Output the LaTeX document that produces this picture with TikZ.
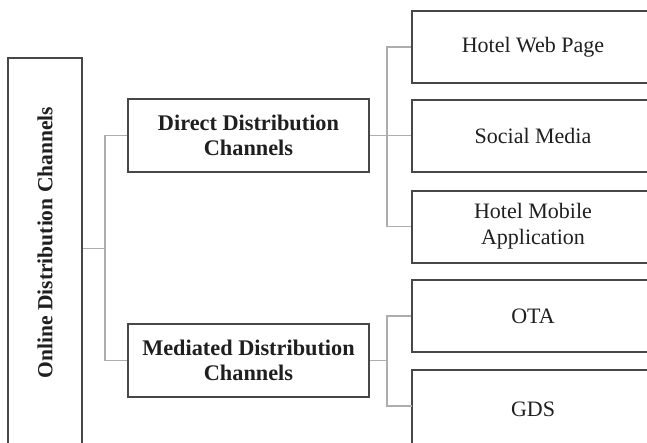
\documentclass[tikz,border=0pt]{standalone}
\usepackage{fontspec}
\setmainfont{Liberation Serif}
\begin{document}
\begin{tikzpicture}[x=1pt,y=-1pt,
  box/.style={draw=black!72, line width=2pt, fill=white, inner sep=0pt, align=center,
    text=black!88, font=\fontsize{22}{26}\selectfont},
  midbox/.style={box, minimum width=241pt, minimum height=73pt, font=\fontsize{22.3}{25}\selectfont\bfseries},
  leafbox/.style={box, minimum width=242pt, minimum height=72pt},
  conn/.style={draw=black!32, line width=1.5pt}]
\useasboundingbox (0,0) rectangle (647,442);
\fill[white] (0,0) rectangle (647,442);
\clip (0,0) rectangle (647,442);
% left box
\node[box, minimum width=74pt, minimum height=420pt] (online) at (45,268) {};
\node[rotate=90, text=black!88, font=\fontsize{21.5}{25}\selectfont\bfseries] (onlinetext) at (45,242.5) {Online Distribution Channels};
% middle boxes
\node[midbox] (direct) at (248.5,135.5) {Direct Distribution\\Channels};
\node[midbox] (mediated) at (248.5,360.5) {Mediated Distribution\\Channels};
% leaf boxes
\node[leafbox] (web) at (533,47) {Hotel Web Page};
\node[leafbox] (social) at (533,135.5) {Social Media};
\node[leafbox] (mobile) at (533,226.5) {Hotel Mobile\\Application};
\node[leafbox] (ota) at (533,316) {OTA};
\node[leafbox, minimum height=78pt] (gds) at (533,409) {GDS};
% junctions
\coordinate (j1) at (105,248.5);
\coordinate (j2) at (387,135.5);
\coordinate (j3) at (387,360.5);
\coordinate (gdsin) at (412,406);
\draw[conn] (online.east |- j1) -- (j1);
\draw[conn] (direct.west) -| (j1) |- (mediated.west);
\draw[conn] (direct.east) -- (j2);
\draw[conn] (web.west) -| (j2) |- (mobile.west);
\draw[conn] (j2) -- (social.west);
\draw[conn] (mediated.east) -- (j3);
\draw[conn] (ota.west) -| (j3) |- (gdsin);
\end{tikzpicture}
\end{document}
